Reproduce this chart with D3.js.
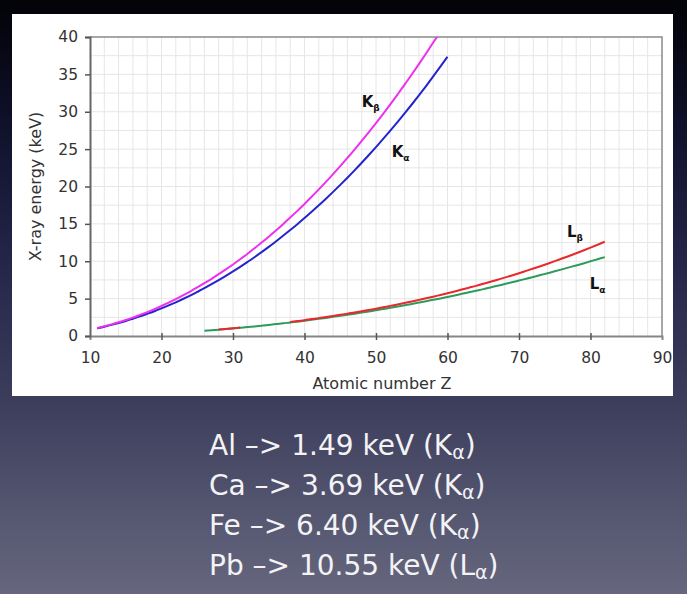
<!DOCTYPE html>
<html>
<head>
<meta charset="utf-8">
<script src="https://cdn.jsdelivr.net/npm/d3@7"></script>
<style>
  html, body { margin: 0; padding: 0; background: #000; }
  svg { display: block; }
</style>
</head>
<body>
<div id="chart"></div>
<script>
// X-ray line energies (keV), one value per Z starting at the given Z
const kAlphaStart = 11;
const kAlpha = [1.04, 1.25, 1.49, 1.74, 2.01, 2.31, 2.62, 2.96, 3.31, 3.69,
  4.09, 4.51, 4.95, 5.41, 5.90, 6.40, 6.93, 7.48, 8.05, 8.64,
  9.25, 9.89, 10.54, 11.22, 11.92, 12.65, 13.40, 14.17, 14.96, 15.78,
  16.62, 17.48, 18.37, 19.28, 20.22, 21.18, 22.16, 23.17, 24.21, 25.27,
  26.36, 27.47, 28.61, 29.78, 30.97, 32.19, 33.44, 34.72, 36.03, 37.36];

const kBetaStart = 11;
const kBeta = [1.07, 1.30, 1.56, 1.84, 2.14, 2.46, 2.82, 3.19, 3.59, 4.01,
  4.46, 4.93, 5.43, 5.95, 6.49, 7.06, 7.65, 8.27, 8.91, 9.57,
  10.26, 10.98, 11.73, 12.50, 13.29, 14.11, 14.96, 15.84, 16.74, 17.67,
  18.62, 19.61, 20.62, 21.66, 22.72, 23.82, 24.94, 26.10, 27.28, 28.49,
  29.73, 31.00, 32.30, 33.62, 34.99, 36.38, 37.80, 39.26, 40.65];

const lAlphaStart = 26;
const lAlpha = [0.71, 0.78, 0.85, 0.93, 1.01, 1.10, 1.19, 1.28, 1.38, 1.48,
  1.59, 1.69, 1.81, 1.92, 2.04, 2.17, 2.29, 2.42, 2.56, 2.70,
  2.84, 2.98, 3.13, 3.29, 3.44, 3.61, 3.77, 3.94, 4.11, 4.29,
  4.47, 4.65, 4.84, 5.03, 5.23, 5.43, 5.64, 5.85, 6.06, 6.27,
  6.50, 6.72, 6.95, 7.18, 7.42, 7.66, 7.90, 8.15, 8.40, 8.65,
  8.91, 9.18, 9.44, 9.71, 9.99, 10.27, 10.55];

// Lβ is missing for Z = 32..37 in the source chart
const lBetaStart = 28;
const lBeta = [0.87, 0.95, 1.04, 1.13, null, null, null, null, null, null,
  1.87, 2.00, 2.12, 2.26, 2.39, 2.54, 2.68, 2.83, 2.99, 3.15,
  3.32, 3.49, 3.66, 3.84, 4.03, 4.22, 4.42, 4.62, 4.83, 5.04,
  5.26, 5.49, 5.72, 5.96, 6.21, 6.46, 6.71, 6.98, 7.25, 7.53,
  7.81, 8.10, 8.40, 8.71, 9.02, 9.34, 9.67, 10.01, 10.36, 10.71,
  11.07, 11.44, 11.82, 12.21, 12.61];

const series = [
  {name: "La", start: lAlphaStart, values: lAlpha, color: "#2e9a5c"},
  {name: "Lb", start: lBetaStart, values: lBeta, color: "#e8292b"},
  {name: "Ka", start: kAlphaStart, values: kAlpha, color: "#2424cc"},
  {name: "Kb", start: kBetaStart, values: kBeta, color: "#ee30ee"}
];

const xTicks = [10, 20, 30, 40, 50, 60, 70, 80, 90];
const yTicks = [0, 5, 10, 15, 20, 25, 30, 35, 40];

const lineLabels = [
  {main: "K", sub: "β", x: 48.0, y: 30.6},
  {main: "K", sub: "α", x: 52.2, y: 23.9},
  {main: "L", sub: "β", x: 76.7, y: 13.3},
  {main: "L", sub: "α", x: 79.9, y: 6.3}
];

const notes = [
  {el: "Al", val: "1.49", line: "K"},
  {el: "Ca", val: "3.69", line: "K"},
  {el: "Fe", val: "6.40", line: "K"},
  {el: "Pb", val: "10.55", line: "L"}
];

const W = 687, H = 594;

const svg = d3.select("#chart")
  .append("svg")
  .attr("width", W)
  .attr("height", H);

// background
const defs = svg.append("defs");
const bg = defs.append("linearGradient")
  .attr("id", "bg")
  .attr("x1", 0).attr("y1", 0).attr("x2", 0).attr("y2", 1);
bg.selectAll("stop")
  .data([[0, "#020207"], [0.2, "#0f1029"], [0.45, "#25264a"], [0.68, "#3d3e5c"], [1, "#66677e"]])
  .enter().append("stop")
  .attr("offset", d => d[0])
  .attr("stop-color", d => d[1]);

svg.append("rect")
  .attr("width", W).attr("height", H)
  .attr("fill", "url(#bg)");

// white panel behind the chart
svg.append("rect")
  .attr("x", 12).attr("y", 14)
  .attr("width", 661).attr("height", 382)
  .attr("fill", "#fff");

const x = d3.scaleLinear().domain([10, 90]).range([90, 662]);
const y = d3.scaleLinear().domain([0, 40]).range([336, 37]);

defs.append("clipPath").attr("id", "plot-clip")
  .append("rect")
  .attr("x", x(10)).attr("y", y(40))
  .attr("width", x(90) - x(10)).attr("height", y(0) - y(40));

// grid
const grid = svg.append("g").attr("class", "grid");
grid.selectAll("line.v")
  .data(d3.range(12, 90, 2))
  .enter().append("line")
  .attr("class", "v")
  .attr("x1", d => x(d)).attr("x2", d => x(d))
  .attr("y1", y(0)).attr("y2", y(40))
  .attr("stroke", "#e6e6e6");
grid.selectAll("line.h")
  .data(d3.range(2.5, 40, 2.5))
  .enter().append("line")
  .attr("class", "h")
  .attr("x1", x(10)).attr("x2", x(90))
  .attr("y1", d => y(d)).attr("y2", d => y(d))
  .attr("stroke", "#e6e6e6");

// plot border (top, right)
svg.append("path")
  .attr("d", `M${x(10)},${y(40)}H${x(90)}V${y(0)}`)
  .attr("fill", "none")
  .attr("stroke", "#8a8a8a")
  .attr("stroke-width", 1.5);

// lines
const line = d3.line()
  .defined(d => d.e !== null)
  .x(d => x(d.z))
  .y(d => y(d.e))
  .curve(d3.curveMonotoneX);

svg.append("g")
  .attr("clip-path", "url(#plot-clip)")
  .selectAll("path")
  .data(series)
  .enter().append("path")
  .attr("d", s => line(s.values.map((e, i) => ({z: s.start + i, e}))))
  .attr("fill", "none")
  .attr("stroke", s => s.color)
  .attr("stroke-width", 2);

// axes
const xAxis = svg.append("g")
  .attr("transform", `translate(0,${y(0)})`)
  .call(d3.axisBottom(x).tickValues(xTicks).tickSizeOuter(0).tickSize(4).tickPadding(12));
xAxis.select(".domain").attr("stroke", "#858585").attr("stroke-width", 2);
xAxis.selectAll(".tick line").attr("y1", -3).attr("y2", 4).attr("stroke", "#555").attr("stroke-width", 1.5);
xAxis.selectAll(".tick")
  .filter(d => d === 10 || d === 90)
  .select("line").remove();

const yAxis = svg.append("g")
  .attr("transform", `translate(${x(10)},0)`)
  .call(d3.axisLeft(y).tickValues(yTicks).tickSizeOuter(0).tickSize(5).tickPadding(7));
yAxis.select(".domain").attr("stroke", "#666").attr("stroke-width", 2);
yAxis.selectAll(".tick line").attr("stroke", "#555").attr("stroke-width", 1.5);

svg.selectAll(".tick text")
  .attr("font-family", "DejaVu Sans, sans-serif")
  .attr("font-size", 15.5)
  .attr("fill", "#333");

// axis titles
svg.append("text")
  .attr("x", (x(10) + x(90)) / 2 + 6)
  .attr("y", 389)
  .attr("text-anchor", "middle")
  .attr("font-family", "DejaVu Sans, sans-serif")
  .attr("font-size", 16)
  .attr("fill", "#333")
  .text("Atomic number Z");

svg.append("text")
  .attr("transform", `translate(41,${(y(0) + y(40)) / 2})rotate(-90)`)
  .attr("text-anchor", "middle")
  .attr("font-family", "DejaVu Sans, sans-serif")
  .attr("font-size", 16)
  .attr("fill", "#333")
  .text("X-ray energy (keV)");

// line labels
const lbl = svg.selectAll("text.line-label")
  .data(lineLabels)
  .enter().append("text")
  .attr("class", "line-label")
  .attr("x", d => x(d.x))
  .attr("y", d => y(d.y))
  .attr("font-family", "DejaVu Sans, sans-serif")
  .attr("font-weight", "bold")
  .attr("font-size", 15)
  .attr("fill", "#111");
lbl.append("tspan").text(d => d.main);
lbl.append("tspan")
  .attr("dy", 4)
  .attr("font-size", 9)
  .text(d => d.sub);

// notes below the chart
const note = svg.selectAll("text.note")
  .data(notes)
  .enter().append("text")
  .attr("class", "note")
  .attr("x", 209)
  .attr("y", (d, i) => 455 + i * 40)
  .attr("font-family", "DejaVu Sans, sans-serif")
  .attr("font-size", 28)
  .attr("fill", "#f3f3f6");
note.append("tspan").text(d => `${d.el} –> ${d.val} keV (${d.line}`);
note.append("tspan")
  .attr("dy", 4)
  .attr("font-size", 19)
  .text("α");
note.append("tspan")
  .attr("dy", -4)
  .text(")");
</script>
</body>
</html>
